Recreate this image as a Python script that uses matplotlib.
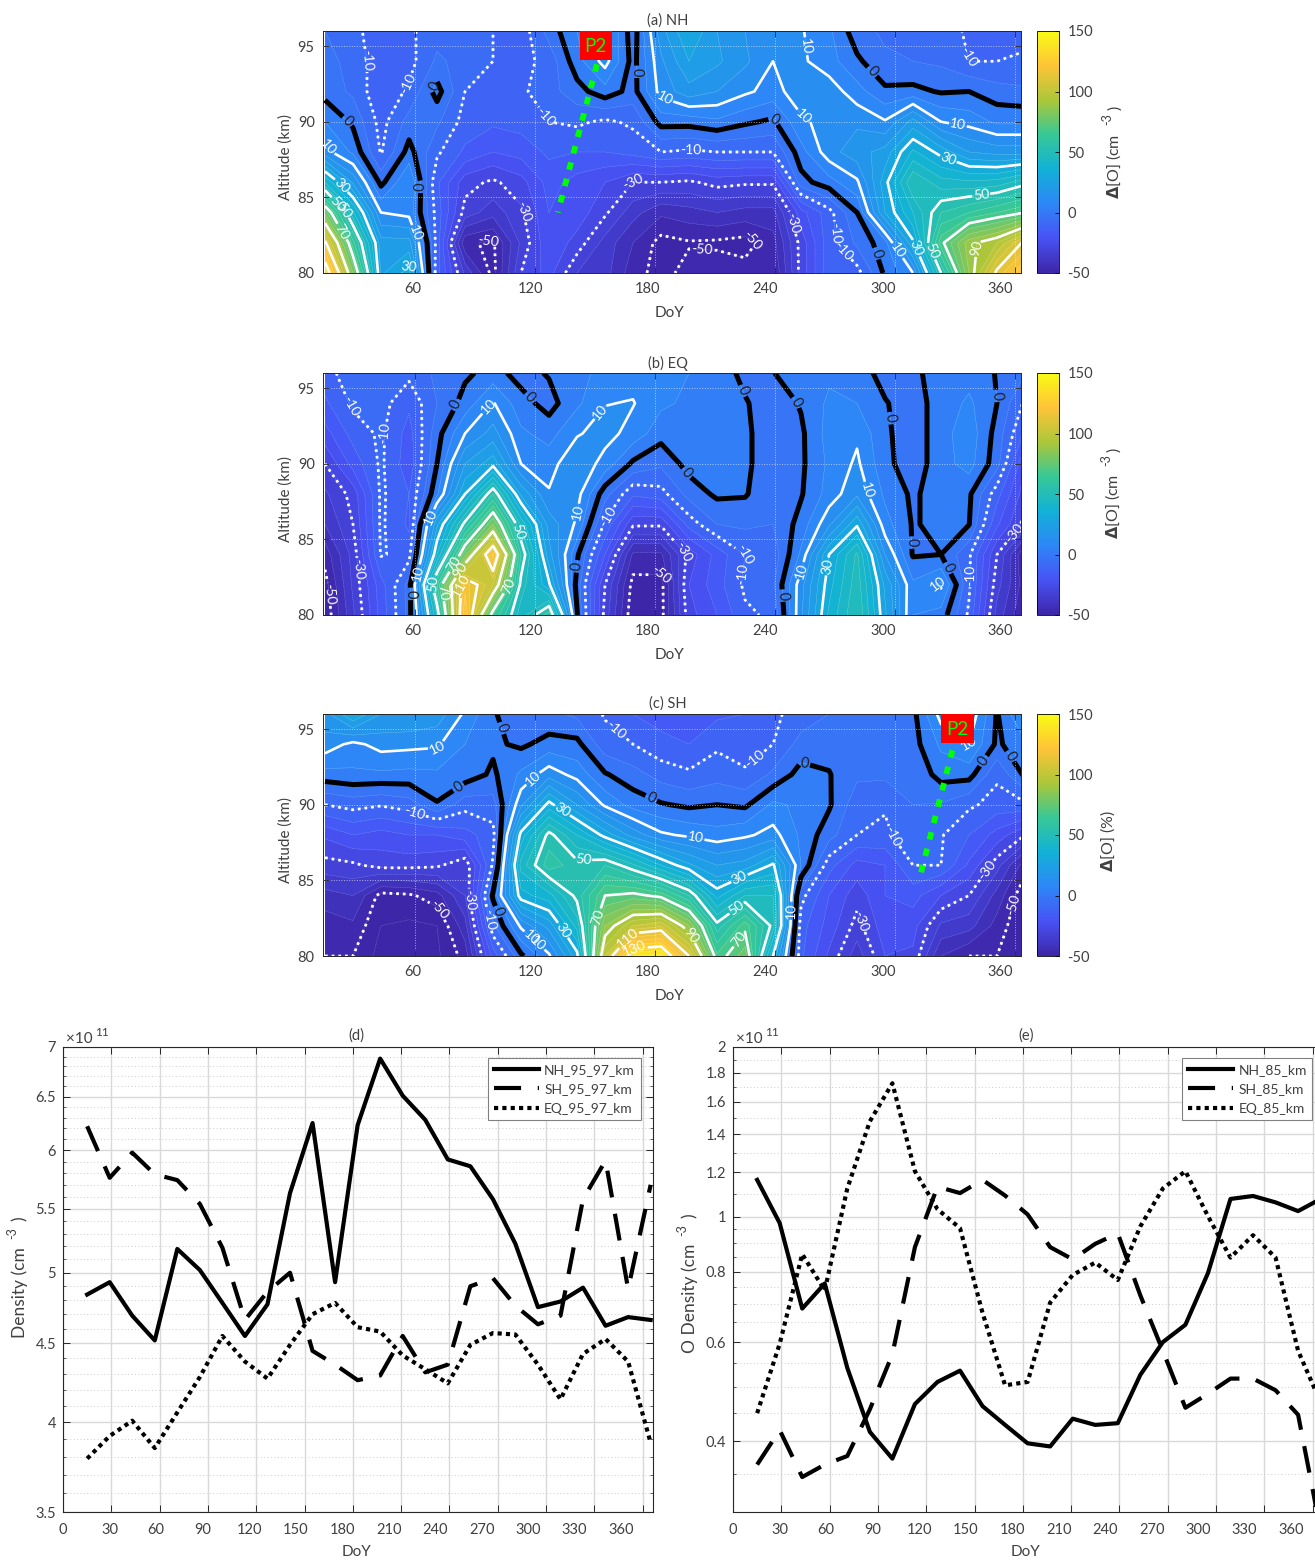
import numpy as np
import matplotlib
matplotlib.use('Agg')
import matplotlib.pyplot as plt
from matplotlib.colors import LinearSegmentedColormap, Normalize
from matplotlib.cm import ScalarMappable
from matplotlib.patches import Rectangle
from matplotlib.ticker import FixedLocator, NullFormatter

plt.rcParams['font.family'] = ['Lato', 'DejaVu Sans']
plt.rcParams['axes.unicode_minus'] = False

W, H = 1315, 1561
GREY = '#404040'

# ---------------- data ----------------
doy = [15, 29, 43, 57, 71, 85, 99, 113, 127, 141, 155, 169, 183, 197, 211, 225, 239, 253,
       267, 281, 295, 309, 323, 337, 351, 365]
alt = [80, 82, 84, 86, 88, 90, 92, 94, 96]

# rows go from 80 km up to 96 km
nh_field = [
    [140, 80, 24, 32, -13, -36, -52, -30, -23, -35, -38, -48, -52, -48, -47, -48, -50, -28, -12, -12, 1, 10, 50, 85, 112, 125],
    [112, 62, 22, 22, -12, -49, -51, -34, -21, -27, -37, -45, -52, -50.5, -51, -52, -47, -28, -12, -4, 3, 29, 68, 88, 95, 112],
    [78, 41, 10, 8, -12, -32, -38, -31, -20, -22, -29, -38, -44, -42, -40, -42, -42, -22, -12, 0, 25, 40, 55, 60, 65, 70],
    [40, 19, -1.5, 10, -14, -28, -31, -27, -18, -22, -25, -30, -30, -31, -28, -29, -29, -2, 3, 9, 28, 50, 42, 41, 42, 48],
    [12, 4, -10.5, 2, -9, -16, -20, -18, -14, -15, -15, -13, -10, -11, -10, -10, -10, 3, 13, 18, 22, 36, 28, 20, 18, 18],
    [5, -1, -12, -3, -4, -12, -14, -13, -10, -9, -11, -9, 2, 2, 4, 1, -1, 9, 12, 14, 10.5, 22, 10, 8, 4, 4],
    [-2, -6, -14, -9, 2, -10, -11, -11, -7, -2, 3, -2, 12, 18, 15, 11, 8, 13, 13, 7, 1, 1.5, -0.5, 0, -3, -4],
    [-3, -7, -13, -12, -4, -7, -10, -12, -8, 3, 12, -2, 14, 25, 21, 16, 10, 11, 7, 1, -4, -5, -6, -10, -10, -9.5],
    [-5, -8, -14, -11, -7, -8, -10, -13, -3, 5, 12, -3, 18, 30, 20, 15, 12, 10.5, 6, -3, -6, -6, -7, -11, -11, -11],
]
eq_field = [
    [-54, -36, -18, -3, 45, 125, 65, 42, 58, 0.5, -32, -54, -52, -27, -20, -11, -9, 14, 36, 50, 26, 5, 3, -11, -37, -50],
    [-52, -34, -17, -3, 60, 118, 100, 48, 31, -2, -30, -52, -52, -25, -17, -9, -6, 13, 33, 48, 24, 6, 11, -9, -33, -48],
    [-48, -33, -9.5, -12, 35, 78, 122, 55, 22, 1, -20, -46, -46, -28, -18, -10, -8, 6, 30, 46, 15, -0.5, 0, -9, -30, -50],
    [-40, -30, -9, -16, 24, 52, 80, 44, 18, 9, -11, -29, -29, -13, -5, -4, -5, 2, 14, 29, 7, -0.5, 1.5, 0.2, -19, -32],
    [-36, -28, -9, -15, 4, 30, 55, 24, 10.5, 12, -3, -14, -12, -3, 1, 0.5, -4, -0.5, 7, 14, 4, -1, 3, 1, -13, -28],
    [-30, -18, -9, -18, 0, 20, 28, 10, 8, 14, 8, -1, -4, 2, 4, 1, -3, -1, 6, 11, 1.5, -3, 3, 7, -3, -25],
    [-22, -13, -9, -17, -2, 10, 17, 6, 3, 9.5, 12, 8, 2, 3, 3, 1, -3, -1, 7, 9, 1, -3, 3, 8, -2, -16],
    [-16, -9, -8, -14, -5, 2, 10.5, 2, -2, 4, 9.8, 10.3, 6, 4, 3, 0.5, -3, 0.5, 6, 5, 0.3, -2, 2, 6, 0, -11],
    [-12, -7, -6, -8.5, -4, -1, 2, -2, 0.5, 4, 6, 8, 6, 5, 3, -1.5, -0.2, 3, 4, 2, -1.5, -1, 2, 3, -0.3, -5],
]
sh_field = [
    [-50, -50, -57, -57, -56, -48, -18, -1, 9, 28, 100, 140, 142, 110, 66, 78, 30, -14, -26, -38, -25, -26, -45, -50, -50, -55],
    [-48, -46, -55, -56, -55, -42, -6, 11, 22, 42, 85, 100, 104, 85, 52, 68, 48, -13, -22, -32, -22, -23, -36, -38, -47, -55],
    [-42, -40, -52, -51, -47, -35, 1, 33, 38, 52, 70, 72, 68, 55, 33, 45, 45, -8, -20, -28, -20, -18, -25, -30, -42, -54],
    [-32, -31, -28, -28, -29, -34, -9, 42, 58, 52, 55, 46, 35, 26, 20, 22, 31, 5, -13, -22, -20, -10, -10, -21, -33, -48],
    [-24, -20, -22, -20, -20, -17, -12, 32, 52, 40, 28, 18, 11, 9, 7, 9, 12, 4, -3, -10, -11, -7, -9.5, -15, -22, -30],
    [-10, -8, -9.5, -7.5, -0.5, -8, -7, 14, 32, 20, 9, 3, 0.5, -1, 0, -1, 6, 4, 0.7, -8, -9.5, -5, -5.5, -9, -12, -11],
    [3, 4, 4, 3.5, 4, 3, -1, 6, 13, 8, 0.5, -3, -7, -9, -7, -9, -4, 2, 0.3, -4, -4, -4, 2, 2, -9, 1],
    [13, 8.5, 12, 11.5, 10.8, 5, 1, -1, 2, 1.5, -8, -10, -13.5, -15, -11, -13, -10, -3, -2, -3, -3, -2, 6, 10, -1, 4],
    [18, 30, 20, 20, 18, 9, 0.5, -3, -4, -6, -10.5, -15, -17, -17, -16, -15, -11, -8, -5, -4, -3, -1.5, 12, 14, -0.5, 11],
]

nh_95_97 = [4.84, 4.93, 4.69, 4.52, 5.18, 5.02, 4.78, 4.55, 4.77, 5.63, 6.25, 4.93, 6.23, 6.88, 6.51, 6.28, 5.92, 5.86,
            5.58, 5.22, 4.75, 4.79, 4.89, 4.62, 4.68, 4.66]
sh_95_97 = [6.22, 5.76, 5.98, 5.79, 5.74, 5.54, 5.19, 4.66, 4.86, 5.00, 4.45, 4.36, 4.26, 4.29, 4.55, 4.31, 4.36, 4.90,
            4.96, 4.76, 4.63, 4.69, 5.58, 5.91, 4.88, 5.70]
eq_95_97 = [3.79, 3.92, 4.01, 3.85, 4.06, 4.28, 4.55, 4.38, 4.27, 4.49, 4.70, 4.78, 4.61, 4.58, 4.42, 4.33, 4.24, 4.49,
            4.57, 4.56, 4.36, 4.14, 4.43, 4.53, 4.38, 3.88]
nh_85 = [1.163, 0.975, 0.688, 0.762, 0.540, 0.416, 0.373, 0.466, 0.510, 0.534, 0.462, 0.428, 0.397, 0.392, 0.439, 0.428,
         0.431, 0.525, 0.600, 0.644, 0.795, 1.076, 1.089, 1.061, 1.024, 1.076]
sh_85 = [0.364, 0.419, 0.346, 0.364, 0.377, 0.456, 0.571, 0.884, 1.131, 1.102, 1.163, 1.091, 1.010, 0.884, 0.841, 0.896,
         0.935, 0.726, 0.579, 0.459, 0.486, 0.517, 0.517, 0.493, 0.446, 0.278]
eq_85 = [0.449, 0.596, 0.859, 0.741, 1.123, 1.477, 1.725, 1.205, 1.032, 0.955, 0.676, 0.503, 0.510, 0.705, 0.789, 0.830,
         0.773, 0.962, 1.123, 1.205, 1.003, 0.847, 0.928, 0.847, 0.579, 0.469]

# where the contour labels sit (doy, km)
nh_zero_lab = [(28, 90.3), (70, 92.3), (62, 85.7), (170, 93.3), (240, 90.2), (286, 93), (291, 81.3)]
nh_pos_lab = [(23, 89), (26.5, 86.2), (24, 84.9), (23, 84), (23, 82.7), (54, 81), (60, 82.6), (183, 90.8), (252, 90),
              (256, 95), (331, 89.5), (326, 87.3), (343, 85.3), (321, 81.6), (337, 81.7), (310, 81.6), (296, 81)]
nh_neg_lab = [(33, 94), (58, 92.4), (126, 90.4), (198, 88.4), (330, 94.1), (168, 86.2), (112, 84), (248, 83.3),
              (97, 81.8), (229, 82.2), (203, 80.9), (266, 82.6), (277, 81.8)]
eq_zero_lab = [(82, 93.8), (116, 94.2), (142.4, 83.2), (192, 89), (223.5, 94.8), (248, 93.8), (297, 93), (352, 94.5),
               (311, 84.8), (328, 83.2), (60, 81.4), (245.4, 81.3)]
eq_pos_lab = [(98, 93.6), (150, 93.7), (62, 86.8), (140, 86.8), (63, 82.7), (70, 82), (73, 81.5), (78, 83.5), (81, 83.1),
              (81, 82), (114, 85.6), (106, 82), (251, 83), (261, 83.3), (288, 88.3), (321, 82.2)]
eq_neg_lab = [(31, 94), (46, 92), (30, 83), (20, 81.4), (153, 86.8), (192, 83.9), (183, 82.7), (223, 82.7), (238, 84.5),
              (335, 82.6), (355, 85.9)]
sh_zero_lab = [(102, 95), (84, 90.7), (178, 90.4), (256, 93.4), (99, 82.8), (343, 93), (354, 92.9)]
sh_pos_lab = [(73, 93.3), (117, 92), (135, 89.9), (144, 86.7), (200, 87.6), (222, 85.2), (220, 83.3), (198, 81.4),
              (219, 81.4), (151, 82.6), (167, 81.1), (170, 80.3), (122, 81.8), (134, 81.7), (116, 80.4), (339, 94), (246, 83)]
sh_neg_lab = [(156, 94.3), (232, 92.7), (59, 89.1), (83, 83.6), (71, 83), (96, 82.4), (298, 87.8), (287, 82.5),
              (346, 85.7), (357, 83.5)]

parula = LinearSegmentedColormap.from_list('parula', [
    (0.2422, 0.1504, 0.6603), (0.2810, 0.3228, 0.9579), (0.1786, 0.5289, 0.9682), (0.0689, 0.6948, 0.8394),
    (0.2161, 0.7843, 0.5923), (0.6720, 0.7793, 0.2227), (0.9970, 0.7659, 0.2199), (0.9769, 0.9839, 0.0805)])
norm = Normalize(-50, 150)

fig = plt.figure(figsize=(W / 100, H / 100), dpi=100)


def box(x0, y0, x1, y1):
    return fig.add_axes([x0 / W, 1 - y1 / H, (x1 - x0) / W, (y1 - y0) / H])


def px_text(x, y, s, **kw):
    kw.setdefault('color', GREY)
    kw.setdefault('ha', 'center')
    kw.setdefault('va', 'center')
    kw.setdefault('fontsize', 10.5)
    fig.text(x / W, 1 - y / H, s, **kw)


def shifted_xlabels(ax, ticks, shrink, pad):
    # the x tick labels drift a little to the left of their ticks
    ax.set_xticks(ticks)
    ax.set_xticklabels([])
    for t in ticks:
        ax.annotate(str(t), xy=(t * shrink, 0), xycoords=ax.get_xaxis_transform(), xytext=(0, -pad),
                    textcoords='offset pixels', ha='center', va='center', fontsize=10.5, color=GREY,
                    annotation_clip=False)


def contour_panel(y0, field, title, zero_lab, pos_lab, neg_lab):
    ax = box(323, y0, 1021, y0 + 242)
    X, Y = np.meshgrid(doy, alt)
    Z = np.array(field, dtype=float)
    ax.contourf(X, Y, Z, levels=np.arange(-60, 155, 5), cmap=parula, norm=norm, extend='both')
    ax.contour(X, Y, Z, levels=np.arange(-60, 155, 5), colors='white', linewidths=0.3, alpha=0.35)
    neg = ax.contour(X, Y, Z, levels=[-50, -30, -10], colors='white', linewidths=2.0, linestyles=[(0, (1, 1.4))])
    pos = ax.contour(X, Y, Z, levels=[10, 30, 50, 70, 90, 110, 130], colors='white', linewidths=1.9, linestyles='solid')
    zero = ax.contour(X, Y, Z, levels=[0], colors='black', linewidths=3.6, linestyles='solid')
    ax.clabel(neg, manual=neg_lab, fmt='%d', fontsize=10, colors='white', inline_spacing=1)
    ax.clabel(pos, manual=pos_lab, fmt='%d', fontsize=10, colors='white', inline_spacing=1)
    ax.clabel(zero, manual=zero_lab, fmt='%d', fontsize=10.5, colors='#202020', inline_spacing=2)
    ax.set_xlim(14, 363)
    ax.set_ylim(80, 96)
    ax.set_yticks([80, 85, 90, 95])
    ax.tick_params(direction='in', top=True, right=True, length=4, width=0.6, colors='#262626', labelsize=10.5,
                   labelcolor=GREY, pad=6)
    shifted_xlabels(ax, [60, 120, 180, 240, 300, 360], 0.98, 16)
    ax.grid(True, color='white', linestyle=':', linewidth=0.7, alpha=0.6)
    ax.set_axisbelow(False)
    for s in ax.spines.values():
        s.set_linewidth(0.7)
        s.set_color('#262626')

    px_text(668, y0 - 10, title)
    px_text(669, y0 + 282, 'DoY', fontsize=11)
    px_text(286, y0 + 126, 'Altitude (km)', rotation=90, fontsize=11)

    cax = box(1037, y0, 1059, y0 + 242)
    cb = fig.colorbar(ScalarMappable(norm=norm, cmap=parula), cax=cax)
    cb.set_ticks([-50, 0, 50, 100, 150])
    cax.tick_params(direction='in', length=3, width=0.6, labelsize=10.5, labelcolor=GREY, pad=6)
    cb.outline.set_linewidth(0.6)
    return ax


def p2_mark(ax, rect_x, line_x, line_y):
    ax.add_patch(Rectangle((rect_x[0], 94.1), rect_x[1] - rect_x[0], 1.9, color='red', zorder=6, lw=0))
    ax.text(sum(rect_x) / 2, 95, 'P2', color='#00ff00', fontsize=13.5, ha='center', va='center', zorder=7)
    ax.plot(line_x, line_y, color='#00ff00', linewidth=4.2, linestyle=(0, (1.3, 1.6)), zorder=6)


ax_a = contour_panel(31, nh_field, '(a) NH', nh_zero_lab, nh_pos_lab, nh_neg_lab)
ax_b = contour_panel(373, eq_field, '(b) EQ', eq_zero_lab, eq_pos_lab, eq_neg_lab)
ax_c = contour_panel(714, sh_field, '(c) SH', sh_zero_lab, sh_pos_lab, sh_neg_lab)

p2_mark(ax_a, (142.4, 158.4), [151, 131.4], [93.8, 84])
p2_mark(ax_c, (323, 339.4), [328.7, 312], [93.6, 85])

# colourbar titles
px_text(1114, 166, r'$\mathbf{\Delta}$[O] (cm', rotation=90, fontsize=11.5)
px_text(1107, 119, '-3', rotation=90, fontsize=9)
px_text(1115, 108, ')', rotation=90, fontsize=11.5)
px_text(1113, 506, r'$\mathbf{\Delta}$[O] (cm', rotation=90, fontsize=11.5)
px_text(1106, 460, '-3', rotation=90, fontsize=9)
px_text(1114, 450, ')', rotation=90, fontsize=11.5)
px_text(1108, 841, r'$\mathbf{\Delta}$[O] (%)', rotation=90, fontsize=11.5)


def line_panel(x0, x1, nh, sh, eq, names, ylim, yticks, yminor, title, legend_x, title_x):
    ax = box(x0, 1047, x1, 1512)
    ax.set_yscale('log')
    ax.plot(doy, nh, color='black', linewidth=3.0, label=names[0])
    ax.plot(doy, sh, color='black', linewidth=3.0, linestyle=(0, (6.5, 4)), label=names[1])
    ax.plot(doy, eq, color='black', linewidth=3.0, linestyle=(0, (1, 1)), label=names[2])
    ax.set_xlim(0, (x1 - x0) / 1.61)
    ax.set_ylim(*ylim)
    ax.yaxis.set_major_locator(FixedLocator(yticks))
    ax.yaxis.set_minor_locator(FixedLocator(yminor))
    ax.yaxis.set_minor_formatter(NullFormatter())
    ax.set_yticklabels([('%g' % t) for t in yticks])
    ax.tick_params(which='major', direction='in', top=True, right=True, length=5, width=0.7, colors='#262626',
                   labelsize=10.5, labelcolor=GREY, pad=5)
    ax.tick_params(which='minor', direction='in', right=True, length=2.5, width=0.5, colors='#262626')
    shifted_xlabels(ax, list(range(0, 361, 30)), 0.963, 18)
    ax.grid(True, which='major', color='#d9d9d9', linewidth=1.0)
    ax.grid(True, which='minor', axis='y', color='#cccccc', linestyle=(0, (1, 2.5)), linewidth=0.7)
    ax.set_axisbelow(True)
    for s in ax.spines.values():
        s.set_linewidth(0.8)
        s.set_color('#262626')
    leg = ax.legend(loc='upper left', bbox_to_anchor=(legend_x / W, 1 - 1058 / H), bbox_transform=fig.transFigure,
                    borderaxespad=0, fancybox=False, framealpha=1, edgecolor='#808080', fontsize=10,
                    handlelength=3.3, labelspacing=0.55, handletextpad=0.35, borderpad=0.4)
    leg.get_frame().set_linewidth(0.8)
    for t in leg.get_texts():
        t.set_color(GREY)
    px_text(title_x, 1036, title, fontsize=10.5)
    px_text(x0 + 16, 1039, '×10', fontsize=11)
    px_text(x0 + 39, 1032, '11', fontsize=8.5)
    px_text(title_x, 1552, 'DoY', fontsize=11)
    return ax


line_panel(63, 653, nh_95_97, sh_95_97, eq_95_97, ['NH_95_97_km', 'SH_95_97_km', 'EQ_95_97_km'], (3.5, 7),
           [3.5, 4, 4.5, 5, 5.5, 6, 6.5, 7],
           [3.6, 3.7, 3.8, 3.9, 4.1, 4.2, 4.3, 4.4, 4.6, 4.7, 4.8, 4.9, 5.1, 5.2, 5.3, 5.4, 5.6, 5.7, 5.8, 5.9,
            6.1, 6.2, 6.3, 6.4, 6.6, 6.7, 6.8, 6.9], '(d)', 488, 356)
line_panel(733, 1323, nh_85, sh_85, eq_85, ['NH_85_km', 'SH_85_km', 'EQ_85_km'], (0.3, 2),
           [0.4, 0.6, 0.8, 1, 1.2, 1.4, 1.6, 1.8, 2],
           [0.35, 0.45, 0.5, 0.55, 0.65, 0.7, 0.75, 0.85, 0.9, 0.95, 1.1, 1.3, 1.5, 1.7, 1.9], '(e)', 1182, 1026)

px_text(20, 1293, 'Density (cm', rotation=90, fontsize=12.5)
px_text(12, 1233, '-3', rotation=90, fontsize=9)
px_text(20, 1219, ')', rotation=90, fontsize=12.5)
px_text(690, 1298, 'O Density (cm', rotation=90, fontsize=12.5)
px_text(682, 1230, '-3', rotation=90, fontsize=9)
px_text(690, 1216, ')', rotation=90, fontsize=12.5)

fig.savefig('out.png', dpi=100)
